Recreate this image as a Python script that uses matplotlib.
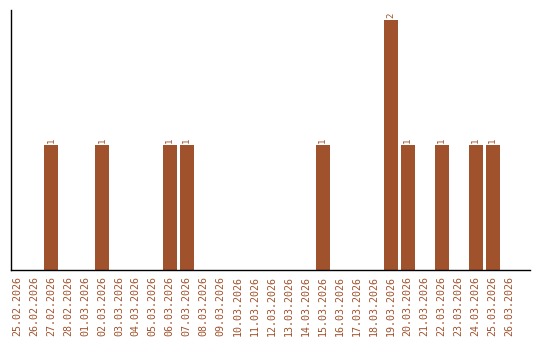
import numpy as np
import matplotlib
matplotlib.use("Agg")
import matplotlib.pyplot as plt

# daily counts, 25.02.2026 .. 26.03.2026
dates = ["25.02.2026", "26.02.2026", "27.02.2026", "28.02.2026",
         "01.03.2026", "02.03.2026", "03.03.2026", "04.03.2026",
         "05.03.2026", "06.03.2026", "07.03.2026", "08.03.2026",
         "09.03.2026", "10.03.2026", "11.03.2026", "12.03.2026",
         "13.03.2026", "14.03.2026", "15.03.2026", "16.03.2026",
         "17.03.2026", "18.03.2026", "19.03.2026", "20.03.2026",
         "21.03.2026", "22.03.2026", "23.03.2026", "24.03.2026",
         "25.03.2026", "26.03.2026"]
counts = [0, 0, 1, 0, 0, 1, 0, 0, 0, 1, 1, 0, 0, 0, 0, 0, 0, 0, 1, 0,
          0, 0, 2, 1, 0, 1, 0, 1, 1, 0]

bar_color = "#A0522D"

fig = plt.figure(figsize=(5.4, 3.4), dpi=100)
ax = fig.add_axes([11 / 540, 70 / 340, 519 / 540, 260 / 340])

x = np.arange(len(dates))
ax.bar(x, counts, width=0.82, color=bar_color, zorder=2)

for xi, v in zip(x, counts):
    if v > 0:
        ax.text(xi, v + 0.02, str(v), rotation=90, ha="center", va="bottom",
                fontsize=6.5, color=bar_color, family="DejaVu Sans Mono")

ax.set_xlim(-0.35, 30.2)
ax.set_ylim(0, 2.08)
ax.set_xticks(x)
ax.set_xticklabels(dates, rotation=90, fontsize=7.2, color=bar_color,
                   family="DejaVu Sans Mono")
ax.tick_params(axis="x", length=0, pad=4)
ax.set_yticks([])
for side in ("top", "right"):
    ax.spines[side].set_visible(False)
ax.spines["left"].set_linewidth(1.0)
ax.spines["bottom"].set_linewidth(1.0)

fig.savefig("out.png", dpi=100)
